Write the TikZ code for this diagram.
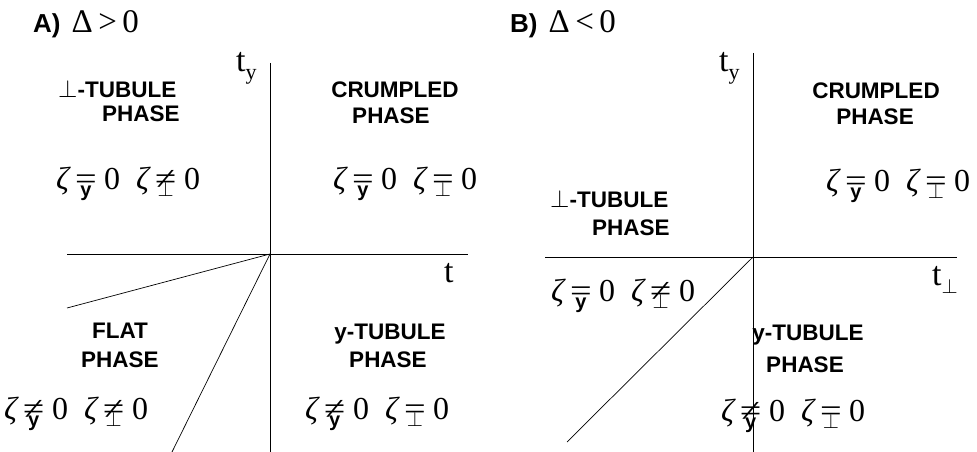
\documentclass[tikz,border=0pt]{standalone}
\usepackage{fontspec}
\usepackage{graphicx}
\setmainfont{Liberation Serif}
\setsansfont{Liberation Sans}
\usepackage{tikz}
\usetikzlibrary{positioning}
\newcommand{\ysub}{{\fontsize{20}{20}\selectfont\sffamily\bfseries y}}
\newcommand{\psub}{{\fontsize{21}{21}\selectfont$\perp$}}
\newcommand{\zcell}[2]{\makebox[19pt][l]{\textit{ζ}}\makebox[29pt][l]{\ooalign{\scalebox{1.2}[1]{#2}\cr\hidewidth\raisebox{-7pt}{#1}\hidewidth\cr}}}
\newcommand{\zform}[4]{\zcell{#1}{#2}\makebox[32pt][l]{0}\zcell{#3}{#4}0}

\begin{document}
\begin{tikzpicture}[x=1pt,y=-1pt,
    phase/.style={font=\fontsize{22.5}{26}\selectfont\sffamily\bfseries, inner sep=0, anchor=base},
    formula/.style={font=\fontsize{32}{34}\selectfont, inner sep=0, anchor=base west},
    axlabel/.style={font=\fontsize{34}{36}\selectfont, inner sep=0, anchor=base west},
    head/.style={font=\fontsize{33}{34}\selectfont, inner sep=0, anchor=base west},
    axis/.style={line width=1pt},
    border/.style={line width=0.7pt}]
  \useasboundingbox (0,0) rectangle (977,452);
  % Panel A: Delta > 0
  \coordinate (oA) at (270,254);
  \coordinate (leftA) at (67,254);
  \coordinate (rightA) at (468,254);
  \coordinate (topA) at (270,63);
  \coordinate (botA) at (270,452);
  \coordinate (flatA) at (67,308);
  \coordinate (flatB) at (172,452);
  \draw[border] (leftA) -- (oA);
  \draw[axis] (oA) -- (rightA);
  \draw[axis] (topA) -- (botA);
  \draw[border] (oA) -- (flatA);
  \draw[border] (oA) -- (flatB);
  \node[head] (headA) at (33,33) {{\fontsize{26}{28}\selectfont\sffamily\bfseries A)}\hspace{11pt}Δ\,>\,0};
  \node[axlabel] (tyA) at (236,72) {t\raisebox{-7pt}{\fontsize{22}{22}\selectfont y}};
  \node[axlabel] (tA) at (444,282) {t};
  \node[phase, anchor=base west] (tubA1) at (58,97) {\fontsize{26}{26}\selectfont$\perp$\fontsize{22.5}{26}\selectfont-TUBULE};
  \node[phase, anchor=base west] (tubA2) at (102,121) {PHASE};
  \node[phase] (crA1) at (395,97) {CRUMPLED};
  \node[phase] (crA2) at (391,123) {PHASE};
  \node[phase] (flA1) at (120,338) {FLAT};
  \node[phase] (flA2) at (120,367) {PHASE};
  \node[phase] (ytA1) at (390,339) {y-TUBULE};
  \node[phase] (ytA2) at (388,367) {PHASE};
  \node[formula] (fA1) at (56,189) {\zform{\ysub}{=}{\psub}{≠}};
  \node[formula] (fA2) at (333,189) {\zform{\ysub}{=}{\psub}{=}};
  \node[formula] (fA3) at (4,419) {\zform{\ysub}{≠}{\psub}{≠}};
  \node[formula] (fA4) at (305,419) {\zform{\ysub}{≠}{\psub}{=}};
  % Panel B: Delta < 0
  \coordinate (oB) at (753,257);
  \coordinate (leftB) at (545,257);
  \coordinate (rightB) at (957,257);
  \coordinate (topB) at (753,53);
  \coordinate (botB) at (753,452);
  \coordinate (diagB) at (567,442);
  \draw[border] (leftB) -- (oB);
  \draw[axis] (oB) -- (rightB);
  \draw[axis] (topB) -- (botB);
  \draw[border] (oB) -- (diagB);
  \node[head] (headB) at (510,33) {{\fontsize{26}{28}\selectfont\sffamily\bfseries B)}\hspace{11pt}Δ\,<\,0};
  \node[axlabel] (tyB) at (719,72) {t\raisebox{-7pt}{\fontsize{22}{22}\selectfont y}};
  \node[axlabel] (tB) at (932,285) {t\raisebox{-8pt}{\fontsize{22}{22}\selectfont$\perp$}};
  \node[phase] (crB1) at (876,98) {CRUMPLED};
  \node[phase] (crB2) at (875,124) {PHASE};
  \node[phase, anchor=base west] (tubB1) at (550,207) {\fontsize{26}{26}\selectfont$\perp$\fontsize{22.5}{26}\selectfont-TUBULE};
  \node[phase, anchor=base west] (tubB2) at (592,235) {PHASE};
  \node[phase] (ytB1) at (808,340) {y-TUBULE};
  \node[phase] (ytB2) at (805,372) {PHASE};
  \node[formula] (fB1) at (826,191) {\zform{\ysub}{=}{\psub}{=}};
  \node[formula] (fB2) at (551,301) {\zform{\ysub}{=}{\psub}{≠}};
  \node[formula] (fB3) at (721,421) {\zform{\ysub}{≠}{\psub}{=}};
\end{tikzpicture}
\end{document}
